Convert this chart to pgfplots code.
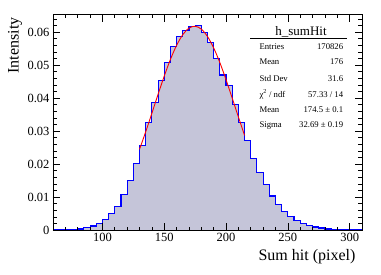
\documentclass[border=0pt]{standalone}
\usepackage{fontspec}
\setmainfont{Liberation Serif}
\usepackage{pgfplots}
\usepackage{pgfplotstable}
\pgfplotsset{compat=1.18}
\definecolor{histfill}{RGB}{197,197,217}

\pgfplotstableread{
x y
60 0
65 0.00002
70 0.00005
75 0.0001
80 0.0003
85 0.0007
90 0.0012
95 0.0021
100 0.0032
105 0.0050
110 0.0072
115 0.0107
120 0.0149
125 0.0201
130 0.0256
135 0.0327
140 0.0388
145 0.0454
150 0.0509
155 0.0557
160 0.0586
165 0.0606
170 0.0618
175 0.0620
180 0.0598
185 0.0568
190 0.0521
195 0.0470
200 0.0438
205 0.0382
210 0.0327
215 0.0271
220 0.0218
225 0.0175
230 0.0139
235 0.0103
240 0.0076
245 0.0056
250 0.0042
255 0.0030
260 0.0020
265 0.0014
270 0.0009
275 0.0006
280 0.0003
285 0.0002
290 0.0001
295 0.00005
300 0.00002
305 0
310 0
}\histdata

\pgfplotstableread{
x y
130 0.02447
135 0.02978
140 0.03541
145 0.04113
150 0.04667
155 0.05173
160 0.05601
165 0.05925
170 0.06122
175 0.06180
180 0.06093
185 0.05869
190 0.05523
195 0.05077
200 0.04559
205 0.03999
210 0.03427
215 0.02869
}\fitdata

\begin{document}
\begin{tikzpicture}
\useasboundingbox (-53pt,-44pt) rectangle (328pt,230pt);
\begin{axis}[
  at={(0pt,0pt)}, anchor=south west,
  scale only axis, width=309pt, height=215.3pt,
  xmin=60, xmax=310, ymin=0, ymax=0.0653,
  xtick={100,150,...,300},
  minor xtick={60,70,...,310},
  ytick={0,0.01,0.02,0.03,0.04,0.05,0.06},
  minor ytick={0,0.002,...,0.064},
  xtick pos=both, ytick pos=both,
  xticklabel pos=lower, yticklabel pos=left,
  tick align=inside,
  major tick length=7pt, minor tick length=3.5pt,
  every tick/.style={black, line width=0.6pt},
  axis line style={line width=0.8pt},
  scaled y ticks=false,
  yticklabel style={/pgf/number format/fixed, /pgf/number format/precision=2},
  /pgf/number format/assume math mode=true,
  ticklabel style={font=\fontsize{12.5}{12.5}\selectfont},
  axis on top,
]
\addplot[const plot, fill=histfill, draw=none] table[x=x,y=y]{\histdata} \closedcycle;
\addplot[const plot, draw=blue, line width=1.1pt] table[x=x,y=y]{\histdata};
\addplot[red, line width=0.9pt, smooth] table[x=x,y=y]{\fitdata};
\end{axis}
% labels
\node[rotate=90, anchor=center, font=\fontsize{16}{16}\selectfont] at (-38pt,184.5pt) {Intensity};
\node[anchor=base east, font=\fontsize{16}{16}\selectfont] at (306pt,-30pt) {Sum hit (pixel)};
% stats box
\node[font=\fontsize{13}{13}\selectfont, anchor=base] at (248pt,195pt) {h\_sumHit};
\draw[line width=0.6pt] (197pt,191.7pt) -- (294pt,191.7pt);
\begin{scope}[font=\fontsize{8.7}{8.7}\selectfont]
\node[anchor=base west] at (203pt,180.5pt) {Entries};
\node[anchor=base east] at (293.7pt,180.5pt) {170826};
\node[anchor=base west] at (203pt,165.5pt) {Mean};
\node[anchor=base east] at (293.7pt,165.5pt) {176};
\node[anchor=base west] at (203pt,149pt) {Std Dev};
\node[anchor=base east] at (293.7pt,149pt) {31.6};
\node[anchor=base west] at (203pt,132.5pt) {χ\textsuperscript{2} / ndf};
\node[anchor=base east] at (293.7pt,132.5pt) {57.33 / 14};
\node[anchor=base west] at (203pt,118pt) {Mean};
\node[anchor=base east] at (293.7pt,118pt) {174.5 ± 0.1};
\node[anchor=base west] at (203pt,103pt) {Sigma};
\node[anchor=base east] at (293.7pt,103pt) {32.69 ± 0.19};
\end{scope}
\end{tikzpicture}
\end{document}
